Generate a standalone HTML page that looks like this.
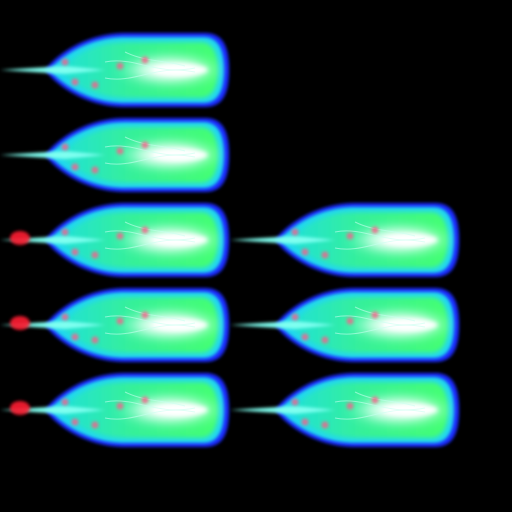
<!DOCTYPE html>
<html><head><meta charset="utf-8"><style>
html,body{margin:0;padding:0;background:#000;width:512px;height:512px;overflow:hidden}
</style></head><body>
<svg id="s" width="512" height="512" viewBox="0 0 512 512" xmlns="http://www.w3.org/2000/svg">
<defs>
<filter id="b1" x="-30%" y="-60%" width="160%" height="220%"><feGaussianBlur stdDeviation="1.5"/></filter>
<filter id="b2" x="-30%" y="-60%" width="160%" height="220%"><feGaussianBlur stdDeviation="2.5"/></filter>
<filter id="b3" x="-30%" y="-60%" width="160%" height="220%"><feGaussianBlur stdDeviation="5"/></filter>
<radialGradient id="core" cx="0.5" cy="0.5" r="0.5">
<stop offset="0" stop-color="#ffffff"/><stop offset="0.45" stop-color="#eafff6"/><stop offset="1" stop-color="#8dffcc" stop-opacity="0"/>
</radialGradient>
<linearGradient id="body" x1="0" x2="1" y1="0" y2="0">
<stop offset="0" stop-color="#20e0d8"/><stop offset="0.45" stop-color="#35f09a"/><stop offset="1" stop-color="#44ff70"/>
</linearGradient>
</defs>
<rect width="512" height="512" fill="#000"/>
</svg>
<script>
const sprites=[[45,70],[45,155],[45,240],[45,325],[45,410],[275,240],[275,325],[275,410]];
const NS="http://www.w3.org/2000/svg";
const svg=document.getElementById('s');
function mk(t,a,p){const e=document.createElementNS(NS,t);for(const k in a)e.setAttribute(k,a[k]);p.appendChild(e);return e;}
const outer="M0,0 C10,-14 40,-37 80,-37 L160,-37 C180,-37 184,-20 184,0 C184,20 180,37 160,37 L80,37 C40,37 10,14 0,0 Z";
const inner="M4,0 C16,-13 42,-33 80,-33 L158,-33 C175,-33 179,-18 179,0 C179,18 175,33 158,33 L80,33 C42,33 16,13 4,0 Z";
sprites.forEach((p,i)=>{
 const g=mk('g',{transform:`translate(${p[0]},${p[1]})`},svg);
 
 
 mk('path',{d:outer,fill:'#1b2bff',filter:'url(#b1)'},g);
 mk('path',{d:inner,fill:'#22d8ee',filter:'url(#b1)'},g);
 mk('path',{d:"M14,0 C24,-11 46,-28 80,-28 L155,-28 C169,-28 173,-15 173,0 C173,15 169,28 155,28 L80,28 C46,28 24,11 14,0 Z",fill:'url(#body)',filter:'url(#b2)'},g);
 mk('ellipse',{cx:125,cy:0,rx:55,ry:17,fill:'url(#core)',filter:'url(#b3)'},g);
 mk('ellipse',{cx:135,cy:0,rx:28,ry:6,fill:'#ffffff',filter:'url(#b2)'},g);
 mk('path',{d:"M-45,0 L20,-4 L60,0 L20,4 Z",fill:'#7ffff0',filter:'url(#b1)'},g);
 mk('path',{d:"M60,-8 C90,-14 110,6 150,-2 M60,8 C90,14 110,-6 150,2 M80,-18 C100,-8 120,-10 140,-4",stroke:'#c8fff0','stroke-width':1,fill:'none',opacity:0.6},g);
 [[20,-8],[30,12],[50,15],[75,-4],[100,-10]].forEach(d=>{
   mk('circle',{cx:d[0],cy:d[1],r:3.5,fill:'#ff5a8a',opacity:0.8,filter:'url(#b1)'},g);
 });
 if(i>=2&&i<5) mk('ellipse',{cx:-25,cy:-2,rx:10,ry:7,fill:'#ff1a30',opacity:0.9,filter:'url(#b1)'},g);
});
</script>
</body></html>
